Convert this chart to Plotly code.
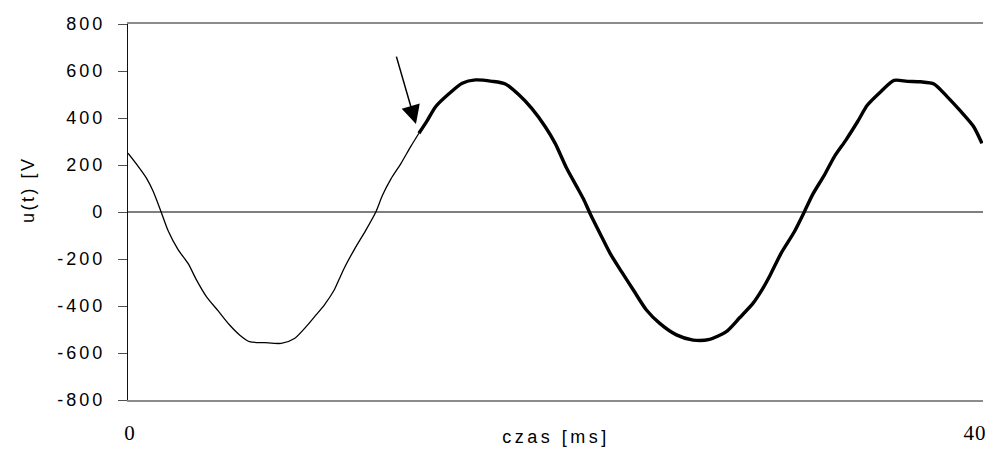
import plotly.graph_objects as go

# time [ms] and voltage [V]
t_clean = [0, 0.49, 0.88, 1.19, 1.56, 1.90, 2.37, 2.85, 3.24, 3.71, 4.26, 4.81, 5.28,
           5.75, 6.46, 7.25, 7.88, 8.43, 8.90, 9.29, 9.76, 10.0, 10.24, 10.71, 11.26,
           11.73, 12.04, 12.44, 12.91, 13.38, 13.77]
u_clean = [250, 193, 143, 88, 2, -80, -160, -220, -289, -360, -420, -481, -523,
           -552, -556, -559, -538, -488, -438, -396, -332, -285, -238, -160, -77,
           0, 70, 140, 205, 278, 335]

t_noisy = [13.77, 14.17, 14.56, 15.19, 15.82, 16.45, 17.23, 17.86, 18.49, 19.12, 19.75,
           20.22, 20.77, 21.24, 21.56, 21.87, 22.34, 22.82, 23.36, 23.92, 24.54, 25.17,
           25.96, 26.75, 27.53, 28.32, 28.95, 29.58, 30.05, 30.40, 30.91, 31.54, 32.01,
           32.41, 32.96, 33.43, 33.98, 34.53, 35.00, 35.63, 36.26, 36.89, 37.51, 38.15,
           38.77, 39.40, 40.03, 40.42]
u_noisy = [335, 390, 448, 503, 548, 562, 556, 545, 500, 440, 363,
           292, 185, 108, 55, -6, -91, -176, -254, -332, -417, -474,
           -523, -545, -542, -509, -450, -389, -325, -268, -176, -84, 0,
           75, 157, 235, 306, 384, 455, 512, 560, 556, 554, 545,
           491, 430, 363, 292]

y_ticks = [-800, -600, -400, -200, 0, 200, 400, 600, 800]
y_ticktext = ["-800", "-600", "-400", "-200", "0", "200", "400", "600", "800"]
x_ticks = [0, 40]
x_ticktext = ["0", "40"]

# arrow marking the moment of change
arrow_t, arrow_u = 13.63, 374

fig = go.Figure()
fig.add_trace(go.Scatter(x=t_clean, y=u_clean, mode="lines",
                         line=dict(color="black", width=1.3, shape="spline", smoothing=0.7),
                         showlegend=False, hoverinfo="skip"))
fig.add_trace(go.Scatter(x=t_noisy, y=u_noisy, mode="lines",
                         line=dict(color="black", width=3.4, shape="spline", smoothing=0.7),
                         showlegend=False, hoverinfo="skip"))

fig.update_layout(
    width=986, height=450,
    margin=dict(l=128, r=0, t=24, b=50),
    paper_bgcolor="white", plot_bgcolor="white",
    showlegend=False,
    xaxis=dict(range=[0, 40.47], showgrid=False, zeroline=False,
               showline=True, linecolor="#8c8c8c", linewidth=1.5, mirror=True,
               tickvals=x_ticks, ticktext=x_ticktext, ticks="",
               tickfont=dict(family="Liberation Serif", size=21, color="black"),
               ticklabelstandoff=13, ticklabelshift=2, ticklabeloverflow="allow"),
    yaxis=dict(range=[-800, 800], tickvals=y_ticks, ticktext=y_ticktext, showgrid=False,
               zeroline=True, zerolinecolor="#7f7f7f", zerolinewidth=1.5,
               showline=True, linecolor="#111111", linewidth=1.3,
               ticks="outside", ticklen=9, tickwidth=1.3, tickcolor="#505050",
               tickfont=dict(family="Liberation Sans", size=18, color="black"),
               ticklabelstandoff=9),
    annotations=[
        dict(text="u(t) [V", xref="paper", yref="paper", x=-0.1166, y=0.5585,
             xanchor="center", yanchor="middle", textangle=-90, showarrow=False,
             font=dict(family="Liberation Sans", size=18, color="black")),
        dict(text="czas [ms]", xref="paper", yref="paper", x=0.5, y=-0.099,
             xanchor="center", yanchor="middle", showarrow=False,
             font=dict(family="Liberation Sans", size=18, color="black")),
        dict(text="", x=arrow_t, y=arrow_u, xref="x", yref="y", ax=-20, ay=-69,
             showarrow=True, arrowhead=2, arrowsize=2.5, arrowwidth=1.5,
             arrowcolor="black"),
    ],
)

css = ("var s=document.createElement('style');"
       "s.textContent='.ytick text{letter-spacing:3px}"
       " g.annotation[data-index=\"0\"] text{letter-spacing:2.5px}"
       " g.annotation[data-index=\"1\"] text{letter-spacing:3.5px}"
       " .xtick text{letter-spacing:1px}';"
       "document.head.appendChild(s);")

fig.write_html("out.html", post_script=css)
